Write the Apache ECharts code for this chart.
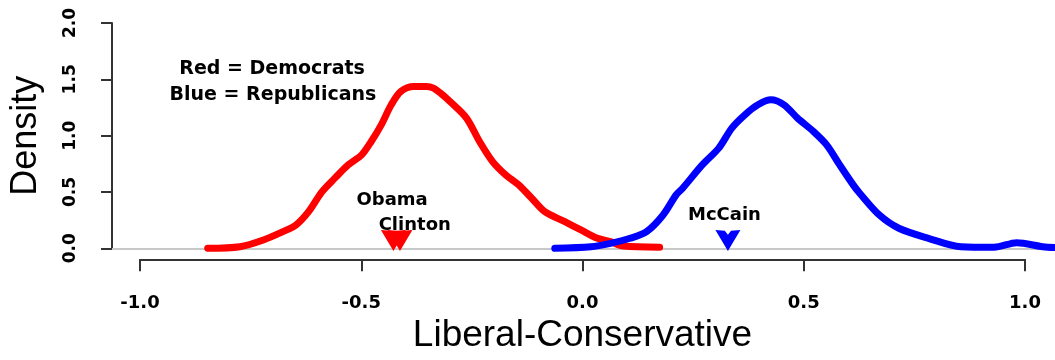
<!DOCTYPE html>
<html>
<head>
<meta charset="utf-8">
<script src="https://cdn.jsdelivr.net/npm/echarts@6/dist/echarts.min.js"></script>
<style>
html,body{margin:0;padding:0;background:#fff;}
#c{width:1055px;height:360px;}
</style>
</head>
<body>
<div id="c"></div>
<script>
// Democrats density (red)
const demX = [-0.864,-0.790,-0.736,-0.691,-0.661,-0.632,-0.601,-0.571,-0.541,-0.510,-0.488,-0.465,-0.442,-0.420,-0.390,-0.361,-0.345,-0.329,-0.307,-0.269,-0.239,-0.209,-0.179,-0.149,-0.119,-0.089,-0.043,-0.006,0.032,0.062,0.092,0.175];
const demY = [0.000,0.014,0.074,0.148,0.207,0.325,0.503,0.625,0.740,0.829,0.948,1.096,1.274,1.392,1.436,1.436,1.422,1.378,1.303,1.156,0.948,0.770,0.652,0.563,0.444,0.325,0.236,0.163,0.089,0.059,0.020,0.010];
// Republicans density (blue)
const repX = [-0.066,0.017,0.062,0.107,0.145,0.183,0.213,0.228,0.273,0.311,0.341,0.371,0.401,0.431,0.461,0.492,0.529,0.559,0.589,0.620,0.635,0.680,0.725,0.793,0.868,0.944,0.996,1.056,1.084];
const repY = [0.000,0.014,0.044,0.089,0.148,0.296,0.474,0.533,0.740,0.889,1.067,1.185,1.274,1.318,1.274,1.156,1.036,0.918,0.740,0.563,0.489,0.296,0.178,0.089,0.014,0.009,0.050,0.014,0.007];
// Candidate positions
const demCandidates = ['Obama','Clinton'];
const demCandX = [-0.437,-0.422];
const repCandidates = ['McCain'];
const repCandX = [0.332];
const arrowY = 0.07;
// Text annotations
const notes = ['Red = Democrats','Blue = Republicans','Obama','Clinton','McCain'];
const notesX = [-0.716,-0.714,-0.440,-0.388,0.324];
const notesY = [1.594,1.362,0.429,0.207,0.296];
const notesSize = [19,19,18,18,18];
// Axis ticks
const xTicks = [-1.0,-0.5,0.0,0.5,1.0];
const yTicks = [0.0,0.5,1.0,1.5,2.0];
const xName = 'Liberal-Conservative';
const yName = 'Density';
const xRange = [-1.084, 1.084];

const zip = (a,b) => a.map((v,i)=>[v,b[i]]);
const arrowPath = 'path://M0,0 L9,1 L12,5 L15,1 L24,0 L12,22 Z';

const chart = echarts.init(document.getElementById('c'), null, {renderer:'canvas'});
chart.setOption({
  animation:false,
  backgroundColor:'#ffffff',
  grid:[
    {left:103, width:959, top:23, height:225.3},
    {left:140, width:885, top:23, height:225.3}
  ],
  xAxis:[
    {gridIndex:0, type:'value', min:xRange[0], max:xRange[1],
     axisLine:{show:true, onZero:false, lineStyle:{color:'#c8c8c8', width:2}},
     axisTick:{show:false}, axisLabel:{show:false}, splitLine:{show:false}},
    {gridIndex:1, type:'value', min:xTicks[0], max:xTicks[xTicks.length-1],
     interval:xTicks[1]-xTicks[0], offset:11,
     axisLine:{show:true, onZero:false, lineStyle:{color:'#333', width:2}},
     axisTick:{show:true, inside:false, length:12, lineStyle:{color:'#333', width:2}},
     axisLabel:{show:true, margin:35, color:'#000', fontFamily:'DejaVu Sans', fontWeight:'bold', fontSize:18,
       formatter:v=>v.toFixed(1)},
     splitLine:{show:false},
     name:xName, nameLocation:'middle', nameGap:58,
     nameTextStyle:{fontFamily:'Liberation Sans', fontSize:37, color:'#000'}}
  ],
  yAxis:[
    {gridIndex:0, type:'value', min:yTicks[0], max:yTicks[yTicks.length-1], interval:yTicks[1]-yTicks[0],
     axisLine:{show:true, onZero:false, lineStyle:{color:'#333', width:2}},
     axisTick:{show:true, length:11, lineStyle:{color:'#333', width:2}},
     axisLabel:{show:true, rotate:90, margin:33, color:'#000', fontFamily:'DejaVu Sans', fontWeight:'bold', fontSize:17,
       formatter:v=>v.toFixed(1)},
     splitLine:{show:false},
     name:yName, nameLocation:'middle', nameRotate:90, nameGap:68,
     nameTextStyle:{fontFamily:'Liberation Sans', fontSize:36, color:'#000'}},
    {gridIndex:1, type:'value', show:false, min:0, max:2}
  ],
  series:[
    {type:'line', xAxisIndex:0, yAxisIndex:0, data:zip(demX,demY), showSymbol:false, clip:false,
     smooth:0.3,
     lineStyle:{color:'#ff0000', width:7, cap:'round', join:'round'}},
    {type:'line', xAxisIndex:0, yAxisIndex:0, data:zip(repX,repY), showSymbol:false, clip:false,
     smooth:0.3,
     lineStyle:{color:'#0000ff', width:7, cap:'round', join:'round'}},
    {type:'scatter', xAxisIndex:0, yAxisIndex:0, clip:false,
     data:demCandX.map((x,i)=>({name:demCandidates[i], value:[x,arrowY]})),
     symbol:arrowPath, symbolSize:[25,21], itemStyle:{color:'#ff0000', opacity:1}},
    {type:'scatter', xAxisIndex:0, yAxisIndex:0, clip:false,
     data:repCandX.map((x,i)=>({name:repCandidates[i], value:[x,arrowY]})),
     symbol:arrowPath, symbolSize:[25,21], itemStyle:{color:'#0000ff', opacity:1}},
    {type:'scatter', xAxisIndex:0, yAxisIndex:0, clip:false, symbolSize:0, silent:true,
     itemStyle:{opacity:1},
     data:notes.map((t,i)=>({value:[notesX[i],notesY[i]],
       label:{show:true, position:'inside', formatter:t, color:'#000', textBorderWidth:0, fontFamily:'DejaVu Sans',
              fontWeight:'bold', fontSize:notesSize[i]}})),
     z:5}
  ]
});
</script>
</body>
</html>
